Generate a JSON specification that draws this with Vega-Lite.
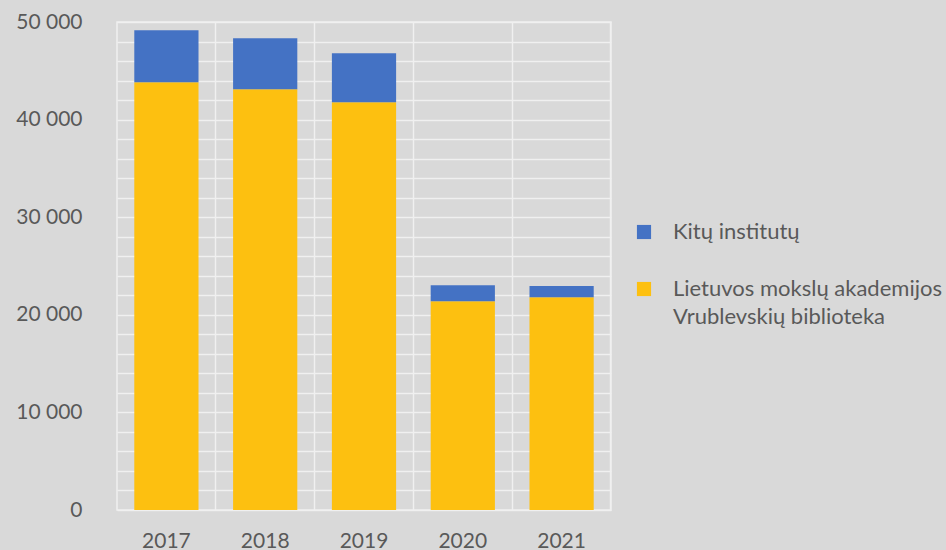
{
  "$schema": "https://vega.github.io/schema/vega-lite/v6.json",
  "width": 494,
  "height": 488,
  "autosize": {"type": "none"},
  "padding": {"left": 117, "top": 22, "right": 335, "bottom": 40},
  "background": "#d9d9d9",
  "config": {
    "view": {"stroke": "#f0f0f0", "strokeWidth": 1.5},
    "font": "Lato",
    "style": {"guide-label": {"lineHeight": 28}}
  },
  "data": {
    "values": [
      {"year": "2017", "series": "Lietuvos mokslų akademijos Vrublevskių biblioteka", "value": 43830},
      {"year": "2017", "series": "Kitų institutų", "value": 5320},
      {"year": "2018", "series": "Lietuvos mokslų akademijos Vrublevskių biblioteka", "value": 43110},
      {"year": "2018", "series": "Kitų institutų", "value": 5220},
      {"year": "2019", "series": "Lietuvos mokslų akademijos Vrublevskių biblioteka", "value": 41780},
      {"year": "2019", "series": "Kitų institutų", "value": 5020},
      {"year": "2020", "series": "Lietuvos mokslų akademijos Vrublevskių biblioteka", "value": 21400},
      {"year": "2020", "series": "Kitų institutų", "value": 1640},
      {"year": "2021", "series": "Lietuvos mokslų akademijos Vrublevskių biblioteka", "value": 21810},
      {"year": "2021", "series": "Kitų institutų", "value": 1130}
    ]
  },
  "mark": {"type": "bar"},
  "encoding": {
    "x": {
      "field": "year",
      "type": "ordinal",
      "scale": {"paddingInner": 0.35, "paddingOuter": 0.175},
      "axis": {
        "title": null,
        "labelAngle": 0,
        "labelFontSize": 21,
        "labelColor": "#595959",
        "labelPadding": 20,
        "ticks": false,
        "domain": false,
        "grid": true,
        "bandPosition": 1.269,
        "gridColor": "#f0f0f0",
        "gridWidth": 1.5
      }
    },
    "y": {
      "field": "value",
      "type": "quantitative",
      "stack": "zero",
      "scale": {"domain": [0, 50000], "nice": false},
      "axis": {
        "title": null,
        "values": [0, 2000, 4000, 6000, 8000, 10000, 12000, 14000, 16000, 18000, 20000, 22000, 24000, 26000, 28000, 30000, 32000, 34000, 36000, 38000, 40000, 42000, 44000, 46000, 48000, 50000],
        "labelExpr": "datum.value % 10000 == 0 ? replace(format(datum.value, ',d'), ',', ' ') : ''",
        "labelFontSize": 21,
        "labelColor": "#595959",
        "labelPadding": 35,
        "ticks": false,
        "domain": false,
        "grid": true,
        "gridColor": "#f0f0f0",
        "gridWidth": 1.5
      }
    },
    "color": {
      "field": "series",
      "type": "nominal",
      "scale": {
        "domain": ["Kitų institutų", "Lietuvos mokslų akademijos Vrublevskių biblioteka"],
        "range": ["#4472c4", "#fdc010"]
      },
      "legend": {
        "title": null,
        "orient": "none",
        "legendX": 516,
        "legendY": 199,
        "symbolType": "square",
        "symbolSize": 200,
        "symbolStrokeWidth": 0,
        "labelFontSize": 22,
        "labelColor": "#595959",
        "labelOffset": 18,
        "labelLimit": 400,
        "rowPadding": 35,
        "labelExpr": "datum.value == 'Kitų institutų' ? datum.value : ['Lietuvos mokslų akademijos', 'Vrublevskių biblioteka']"
      }
    },
    "order": {"field": "series", "sort": "descending"}
  }
}
